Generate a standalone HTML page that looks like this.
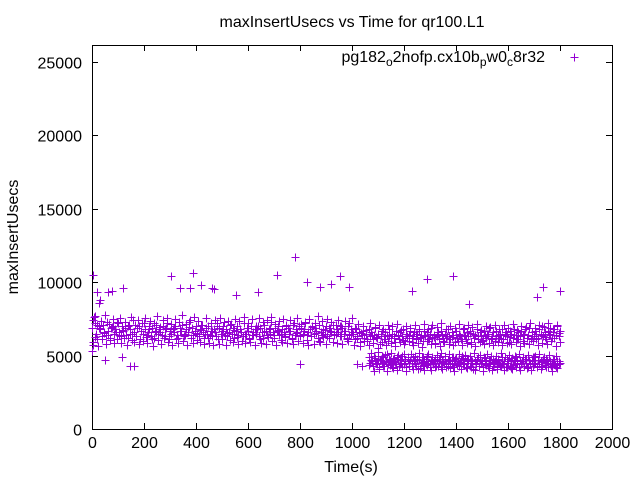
<!DOCTYPE html>
<html><head><meta charset="utf-8"><style>
body{margin:0;background:#fff}
svg{display:block;font-family:"Liberation Sans",sans-serif}
</style></head><body>
<svg id="chart" width="640" height="480" viewBox="0 0 640 480" xmlns="http://www.w3.org/2000/svg">
<rect width="640" height="480" fill="#fff"/>
<text x="352" y="27" font-size="16" text-anchor="middle">maxInsertUsecs vs Time for qr100.L1</text>
<g id="axes"></g>
<g id="marks"></g>
<text transform="translate(18,237) rotate(-90)" font-size="16" text-anchor="middle">maxInsertUsecs</text>
<text x="351" y="472" font-size="16" text-anchor="middle">Time(s)</text>
<g>
<text x="545" y="62" font-size="16" text-anchor="end">pg182<tspan dy="4" font-size="12">o</tspan><tspan dy="-4">2nofp.cx10b</tspan><tspan dy="4" font-size="12">p</tspan><tspan dy="-4">w0</tspan><tspan dy="4" font-size="12">c</tspan><tspan dy="-4">8r32</tspan></text>
<path d="M570.5 57.5h8M574.5 53.5v8" stroke="#9400d3" stroke-width="1"/>
</g>
</svg>
<script>
const xTicks=[0,200,400,600,800,1000,1200,1400,1600,1800,2000];
const yTicks=[0,5000,10000,15000,20000,25000];
// early band 0..1000 s
const earlyStart=0, earlyEnd=1000;
const early=[6900,7400,7200,6500,6100,7000,6800,6300,7100,6600,6400,7300,6700,6200,6900,7000,6500,6800,6100,7200,
6600,6300,7000,6700,6900,6400,6200,7100,6800,6500,7400,6600,6300,6900,7000,6100,6700,6500,7200,6800,
6400,6600,7000,6300,6900,6200,6700,7100,6500,6800,6600,6400,7000,6300,6900,7200,6100,6700,6500,6800,
6600,7000,6400,6200,6900,6700,7100,6300,6500,6800,6600,7300,6200,6900,6400,6700,7000,6500,6300,6800,
7100,6600,6200,6900,6500,7000,6400,6700,6300,6800,6600,7200,6100,6900,6500,6700,7000,6400,6800,6300,
6600,7100,6500,6900,6200,6700,7000,6400,6800,6600,6300,7200,6500,6900,6700,6100,7000,6400,6600,6800,
6500,7000,6300,6900,6600,6200,7100,6700,6400,6800,6500,7300,6600,6200,6900,6700,7000,6400,6500,6800,
6600,6300,7000,6900,6500,6700,6200,7100,6400,6800,6600,7000,6300,6900,6500,6700,7200,6400,6600,6800,
6300,7000,6500,6900,6700,6200,7100,6600,6400,6800,6500,7000,6300,6900,6700,6600,7100,6400,6500,6800,
6600,7000,6300,6900,6500,6700,6200,7000,6400,6800,6600];
const early2=[5950,7620,6250,7050,5680,6870,7350,6140,6560,7760,5760,6430,7180,6030,6960,7470,5840,6620,7260,6380,
7530,5890,6720,6180,7310,5720,6990,6480,7640,6090,5930,7080,6310,7420,5810,6650,7190,6020,7560,6270,
5870,6840,7370,6110,5660,7230,6590,7690,6060,6920,5790,7410,6210,6780,7570,5910,6360,7120,5730,6890,
7480,6160,5830,7280,6640,7730,5980,6410,7160,5710,6970,7390,6230,5860,7610,6520,6080,7330,5940,6750,
7060,5770,6450,7540,6190,5890,7220,6670,5740,7440,6330,6990,5820,7580,6140,6810,7270,5690,6540,7380,
6040,7120,5920,6710,7490,6260,5780,7340,6610,6010,7660,5860,6460,7210,6170,5950,7470,6390,5740,7030,
6820,7560,6130,5890,7290,6580,5810,7410,6240,6900,7640,5980,6370,7140,5720,6770,7360,6090,5930,7510,
6290,7080,5840,6690,7430,6150,5770,7240,6520,7590,5960,6420,7170,5880,6830,7320,6070,5740,7460,6350,
6940,5820,7210,6570,7680,6020,5900,7380,6260,6730,5790,7500,6190,6860,7260,5930,6480,7110,5850,7420,
6310,7020,5770,6640,7350,6110,5960,7230,6480,7550];
// late upper band 1000..1800 s
const lateStart=1005, lateEnd=1800;
const late=[6500,6100,6800,6300,6600,5900,6400,6700,6200,6500,6000,6800,6300,6600,6100,6400,6900,6200,6500,5800,
6300,6700,6100,6600,6400,6000,6800,6200,6500,6300,5900,6700,6400,6100,6600,6300,6800,6000,6500,6200,
6400,6700,5900,6300,6600,6100,6500,6800,6200,6400,6000,6700,6300,6600,6100,6500,6900,6200,6400,5800,
6300,6600,6100,6700,6400,6000,6500,6200,6800,6300,6100,6600,6400,5900,6700,6200,6500,6300,6000,6800,
6400,6100,6600,6300,6700,5900,6500,6200,6400,6800,6100,6600,6300,6000,6700,6400,6200,6500,6900,6100,
6300,6600,6000,6700,6400,6200,6500,6800,6100,6400,6600,6300,5900,6700,6500,6200,6800,6400,6100,6600,
6300,6700,6000,6500,6800,6200,6400,6900,6100,6600,6300,6700,6500,6200,6800,6400,7000,6300,6600,6100,
6700,6500,6900,6200,6600,6800,6400,7000,6300,6700];
const late2=[5750,6880,6230,7160,5620,6540,7040,5980,6710,6120,5690,7230,6370,5870,6960,6280,5540,7110,6450,5930,
6810,6160,5720,7050,6330,5860,6990,6210,5640,7180,6420,5910,6740,6080,5780,7020,6350,5960,6870,6170,
5710,7090,6480,5880,6660,6240,5580,7140,6390,5990,6830,6110,5760,7070,6290,5840,6920,6460,5670,7210,
6180,5940,6780,6330,5820,7010,6250,5690,6900,6410,5970,7120,6140,5730,6850,6300,5880,7060,6520,5790,
6940,6200,5650,7170,6360,5910,6760,6090,5800,7030,6440,5870,6980,6230,5720,7100,6350,5950,6810,6160,
5690,7080,6490,5830,6900,6270,5760,7150,6380,5920,6720,6140,5640,7040,6430,5880,6960,6210,5790,7190,
6320,5970,6850,6110,5700,7070,6460,5850,6930,6260,5780,7220,6400,5990,6790,6180,5670,7110,6530,5900];
// late lower band
const lowStart=1065, lowEnd=1800;
const low=[4900,4500,4700,4300,5000,4600,4400,4800,4200,4700,4500,4900,4300,4600,5100,4400,4700,4500,4200,4800,
4600,4400,4900,4300,4700,4500,5000,4400,4600,4200,4800,4500,4700,4300,4900,4600,4400,4800,4100,4700,
4500,4900,4300,4600,4400,5000,4500,4200,4700,4600,4400,4800,4300,4700,4500,4900,4200,4600,4400,4800,
4500,4300,4700,4600,4900,4200,4500,4800,4400,4600,4300,4700,5000,4400,4500,4200,4800,4600,4300,4700,
4500,4100,4600,4400,4800,4300,4700,4500,4200,4900,4400,4600,4300,4700,4500,4000,4800,4400,4600,4200,
4700,4500,4300,4900,4400,4600,4200,4800,4500,4300,4700,4100,4600,4400,4900,4500,4200,4700,4400,4600,
4300,4800,4500,4200,4700,4400,4600,4300,4900,4500,4200,4700,4400,4600,4300,4800,4500,4200,4700,4400,
4600,4300,4500,4800,4400,4200,4600,4400,4500];
const low2=[4350,5150,4620,3980,4830,4470,5220,4110,4690,4940,4260,5060,4540,3920,4780,4380,5180,4160,4860,4590,
4030,5010,4430,4740,4210,5130,4660,3960,4890,4320,5090,4510,4080,4960,4280,4720,5200,4140,4580,4910,
4040,4800,4360,5110,4450,3990,4870,4640,4190,5040,4290,4760,5170,4060,4530,4980,4230,4680,5080,4120,
4420,4920,3950,4810,4340,5140,4570,4070,4850,4400,5030,4180,4710,4990,4250,4630,5190,4020,4490,4880,
4300,5060,4600,3970,4820,4390,5120,4150,4700,4950,4270,4550,5000,4090,4780,4330,5160,4460,4010,4900,
4240,4650,5070,4130,4840,4370,4960,4200,4730,5100,4050,4610,4930,4310,4770,4170,5050,4480,4000,4870,
4410,4990,4260,4690,5130,4100,4560,4920,4340,4750,4220,5020,4440,3980,4800,4390,4970,4150,4660,4500];
const outlierTimes=[5,20,25,30,60,75,120,115,145,160,50,305,340,390,375,420,460,470,555,640,710,780,800,825,875,920,955,990,1020,1040,1230,1290,1390,1450,1710,1735,1800,10,0,3];
const outlierValues=[10500,9300,8600,8800,9300,9400,9600,4900,4300,4300,4700,10400,9600,10600,9600,9800,9600,9500,9100,9300,10500,11700,4400,10000,9700,9900,10400,9700,4400,4300,9400,10200,10400,8500,9000,9700,9400,7700,5300,5700];
const X0=92,X1=612,Y0=429,Y1=45,XMAX=2000,YMAX=26150;
function xs(t){return X0+(t/XMAX)*(X1-X0);}
function ys(v){return Y0-(v/YMAX)*(Y0-Y1);}
const NS="http://www.w3.org/2000/svg";
const axes=document.getElementById('axes');
let d=`M${X0+.5} ${Y1+.5}H${X1+.5}V${Y0+.5}H${X0+.5}Z`;
const frame=document.createElementNS(NS,'path');


frame.setAttribute('d',d);frame.setAttribute('fill','none');frame.setAttribute('stroke','#000');
axes.appendChild(frame);
let td='';
xTicks.forEach(t=>{const x=Math.round(xs(t))+.5;td+=`M${x} ${Y0}v-6M${x} ${Y1}v6`;
 const tx=document.createElementNS(NS,'text');
 
 
 tx.setAttribute('x',x);tx.setAttribute('y',Y0+19);tx.setAttribute('font-size','16');tx.setAttribute('text-anchor','middle');tx.textContent=t;axes.appendChild(tx);});
yTicks.forEach(v=>{const y=Math.round(ys(v))+.5;td+=`M${X0} ${y}h6M${X1} ${y}h-6`;
 const tx=document.createElementNS(NS,'text');
 
 
 tx.setAttribute('x',X0-10);tx.setAttribute('y',y+6);tx.setAttribute('font-size','16');tx.setAttribute('text-anchor','end');tx.textContent=v;axes.appendChild(tx);});
const ticks=document.createElementNS(NS,'path');


ticks.setAttribute('d',td);ticks.setAttribute('stroke','#000');axes.appendChild(ticks);
let pd='';
function plus(t,v){const x=Math.round(xs(t))+.5,y=Math.round(ys(v))+.5;pd+=`M${x-4} ${y}h8M${x} ${y-4}v8`;}
function series(arr,t0,t1,off){const n=arr.length;arr.forEach((v,i)=>plus(t0+off+(n>1?i*(t1-t0-off)/(n-1):0),v));}
series(early,earlyStart,earlyEnd,0);
series(early2,earlyStart,earlyEnd,2);
series(late,lateStart,lateEnd,0);
series(late2,lateStart,lateEnd,2);
series(low,lowStart,lowEnd,0);
series(low2,lowStart,lowEnd,2);
outlierTimes.forEach((t,i)=>plus(t,outlierValues[i]));
const pts=document.createElementNS(NS,'path');


pts.setAttribute('d',pd);pts.setAttribute('stroke','#9400d3');pts.setAttribute('stroke-width','1');pts.setAttribute('fill','none');
document.getElementById('marks').appendChild(pts);
</script>
</body></html>
